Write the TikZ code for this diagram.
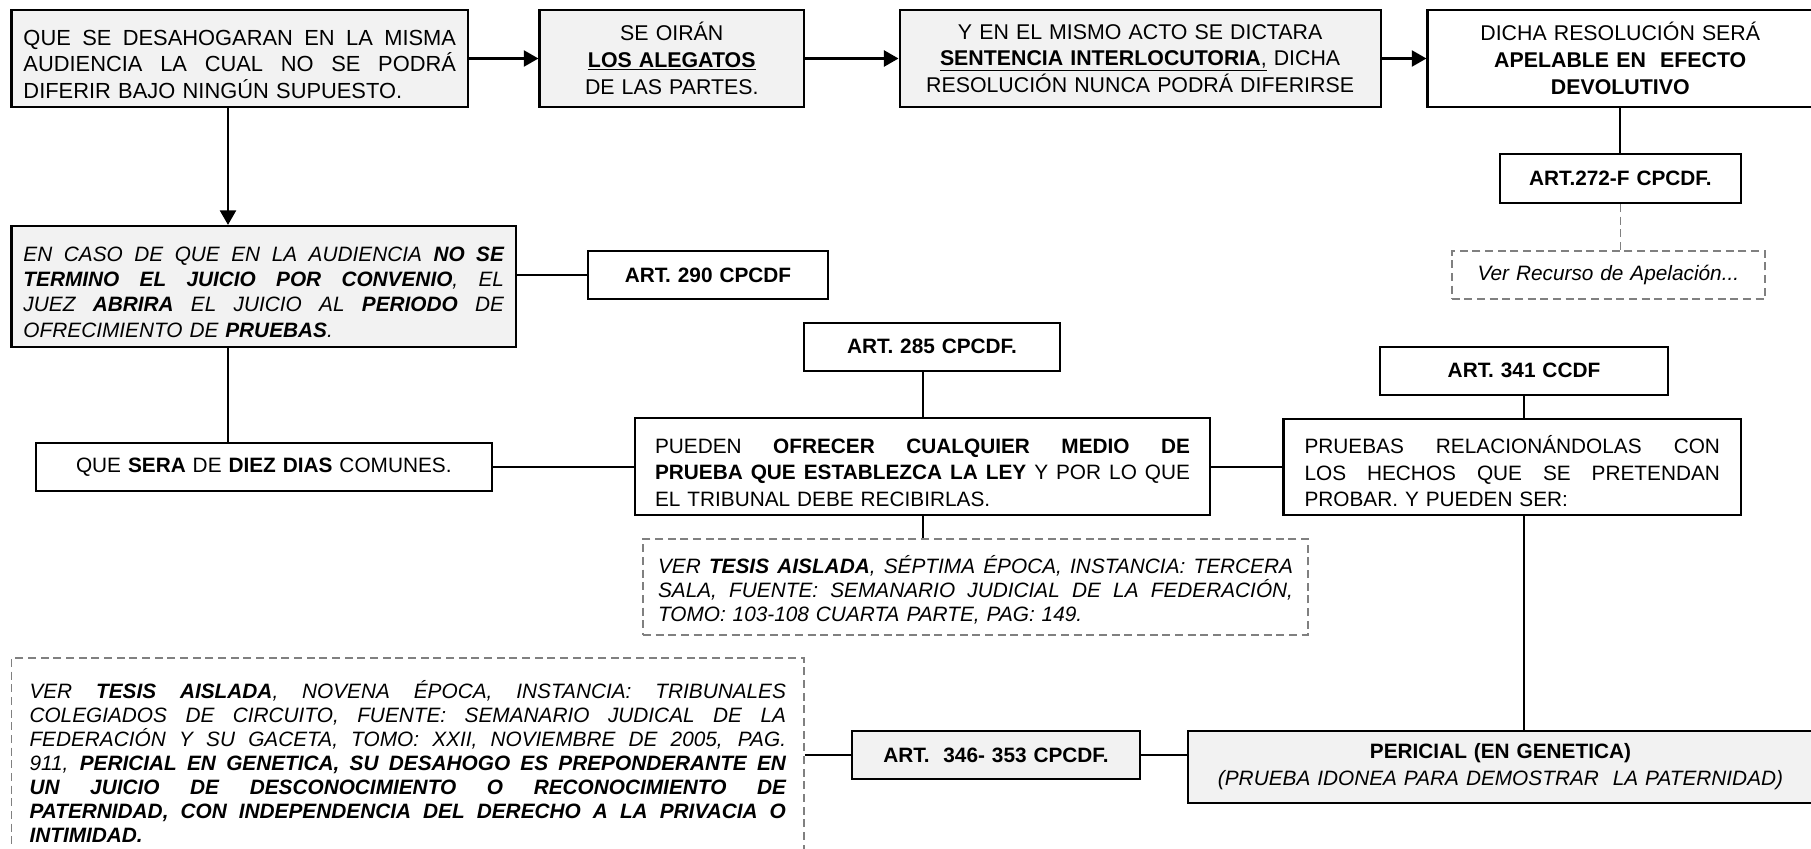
\documentclass[tikz,border=0pt]{standalone}
\usepackage{fontspec}
\setmainfont{Liberation Sans}
\usetikzlibrary{arrows.meta}

\definecolor{panelgray}{HTML}{F2F2F2}
\definecolor{noteline}{HTML}{808080}

% one justified row / one final (left aligned) row of a text block;
% \bxt holds the text width of the box being drawn
\newcommand\jrow[1]{\par\hbox to\bxt pt{\spaceskip=0.278em plus 1fil\relax #1}}
\newcommand\frow[1]{\par\hbox to\bxt pt{#1\hfil}}

% \bx{name}{x1}{y1}{x2}{y2}{side padding}{style}{text}  (pixel units)
\newcommand\bx[8]{%
  \pgfmathsetmacro\bxw{(#4-#2)*0.75}%
  \pgfmathsetmacro\bxh{(#5-#3)*0.75}%
  \pgfmathsetmacro\bxt{(#4-#2-2*#6)*0.75}%
  \pgfmathsetmacro\bxp{#6*0.75}%
  \node[#7, inner xsep=\bxp pt, inner ysep=0pt, minimum width=\bxw pt,
        minimum height=\bxh pt, text width=\bxt pt]
        (#1) at ({(#2+#4)/2},{(#3+#5)/2}) {#8};}

\begin{document}
\begin{tikzpicture}[x=0.75pt, y=-0.75pt,
  cardwhite/.style={draw=black, line width=1.6pt, fill=white,
    font=\fontsize{15.6}{20}\selectfont},
  cardgray/.style={cardwhite, fill=panelgray},
  toprow/.style={font=\fontsize{16}{20}\selectfont},
  notecard/.style={draw=noteline, line width=1.2pt, dash pattern=on 6pt off 3.5pt,
    fill=white, font=\fontsize{15.6}{18}\selectfont\itshape},
  link/.style={line width=1.5pt},
  flow/.style={line width=2pt, -{Triangle[length=11pt,width=12pt]}},
  notelink/.style={draw=noteline, line width=1.2pt, dash pattern=on 6pt off 3.5pt}]

\fill[white] (0,0) rectangle (1811,849);
\useasboundingbox (0,0) rectangle (1811,849);

% ---- first row
\bx{b1}{11.5}{10}{468}{107}{12}{cardgray, font=\fontsize{16.4}{20}\selectfont}{%
\jrow{QUE SE DESAHOGARAN EN LA MISMA}
\jrow{AUDIENCIA LA CUAL NO SE PODRÁ}
\frow{DIFERIR BAJO NINGÚN SUPUESTO.}}

\bx{b2}{539.5}{10}{804}{107}{6}{cardgray, toprow, align=center}{%
SE OIRÁN\\\underline{\textbf{LOS ALEGATOS}}\\DE LAS PARTES.}

\bx{b3}{899.6}{10}{1380.6}{107}{6}{cardgray, toprow, align=center}{%
Y EN EL MISMO ACTO SE DICTARA\\\underline{\textbf{SENTENCIA INTERLOCUTORIA},} DICHA\\RESOLUCIÓN NUNCA PODRÁ DIFERIRSE}

\bx{b4}{1427.5}{10}{1813}{107}{6}{cardwhite, toprow, align=center}{%
DICHA RESOLUCIÓN SERÁ\\\textbf{APELABLE EN\ \ EFECTO}\\\textbf{DEVOLUTIVO}}

% ---- appeal branch
\bx{a272}{1500}{154}{1740.7}{203}{5}{cardwhite, align=center}{\textbf{ART.272-F CPCDF.}}
\bx{ver}{1451.7}{251}{1765}{299}{5}{notecard, align=center,
  font=\fontsize{15.6}{20}\selectfont\itshape}{Ver Recurso de Apelación...}

% ---- evidence period
\bx{enc}{11.5}{226}{516}{347}{12}{cardgray, font=\fontsize{15.6}{19}\selectfont\itshape}{%
\jrow{EN CASO DE QUE EN LA AUDIENCIA \textbf{NO SE}}
\jrow{\textbf{TERMINO EL JUICIO POR CONVENIO}, EL}
\jrow{JUEZ \textbf{ABRIRA} EL JUICIO AL \textbf{PERIODO} DE}
\frow{OFRECIMIENTO DE \textbf{PRUEBAS}.}}

\bx{a290}{587.7}{250.7}{828.3}{299}{5}{cardwhite, align=center}{\textbf{ART. 290 CPCDF}}

\bx{a285}{804}{322.7}{1060}{370.7}{5}{cardwhite, align=center}{\textbf{ART. 285 CPCDF.}}

\bx{a341}{1380}{346.7}{1668}{395}{5}{cardwhite, align=center}{\textbf{ART. 341 CCDF}}

\bx{qs}{35.6}{442.7}{492}{491}{6}{cardwhite, align=center}{%
QUE \textbf{SERA} DE \textbf{DIEZ DIAS} COMUNES.}

\bx{pue}{635}{418}{1210}{515}{20}{cardwhite}{%
\jrow{PUEDEN \textbf{OFRECER CUALQUIER MEDIO DE}}
\jrow{\textbf{PRUEBA QUE ESTABLEZCA LA LEY} Y POR LO QUE}
\frow{EL TRIBUNAL DEBE RECIBIRLAS.}}

\bx{pru}{1283.5}{419}{1741}{515}{21}{cardwhite}{%
\jrow{PRUEBAS RELACIONÁNDOLAS CON}
\jrow{LOS HECHOS QUE SE PRETENDAN}
\frow{PROBAR. Y PUEDEN SER:}}

\bx{t1}{643}{539}{1308}{635}{15}{notecard}{%
\jrow{VER \textbf{TESIS AISLADA}, SÉPTIMA ÉPOCA, INSTANCIA: TERCERA}
\jrow{SALA, FUENTE: SEMANARIO JUDICIAL DE LA FEDERACIÓN,}
\frow{TOMO: 103-108 CUARTA PARTE, PAG: 149.}}

% ---- expert evidence
\bx{t2}{11.5}{658}{804}{858}{18}{notecard}{%
\jrow{VER \textbf{TESIS AISLADA}, NOVENA ÉPOCA, INSTANCIA: TRIBUNALES}
\jrow{COLEGIADOS DE CIRCUITO, FUENTE: SEMANARIO JUDICAL DE LA}
\jrow{FEDERACIÓN Y SU GACETA, TOMO: XXII, NOVIEMBRE DE 2005, PAG.}
\jrow{911, \textbf{PERICIAL EN GENETICA, SU DESAHOGO ES PREPONDERANTE EN}}
\jrow{\textbf{UN JUICIO DE DESCONOCIMIENTO O RECONOCIMIENTO DE}}
\jrow{\textbf{PATERNIDAD, CON INDEPENDENCIA DEL DERECHO A LA PRIVACIA O}}
\frow{\textbf{INTIMIDAD.}}}

\bx{a346}{852}{730.7}{1140}{779}{5}{cardgray, align=center}{\textbf{ART.\ \ 346- 353 CPCDF.}}

\bx{per}{1188}{730.7}{1813}{802.7}{6}{cardgray, align=center}{%
\textbf{PERICIAL (EN GENETICA)}\\\textit{(PRUEBA IDONEA PARA DEMOSTRAR\ \ LA PATERNIDAD)}}

% ---- connectors
\coordinate (v1) at (228,0);

\draw[flow] (b1.east) -- (b2.west);
\draw[flow] (b2.east) -- (b3.west);
\draw[flow] (b3.east) -- (b4.west);
\draw[flow] (b1.south -| v1) -- (enc.north -| v1);

\draw[link] (b4.south -| a272.north) -- (a272.north);
\draw[notelink] (a272.south) -- (ver.north -| a272.south);

\draw[link] (enc.east |- a290.west) -- (a290.west);
\draw[link] (enc.south -| v1) -- (qs.north -| v1);
\draw[link] (qs.east) -- (pue.west |- qs.east);
\draw[link] (a285.south -| pue.north) -- (pue.north);
\draw[link] (pue.south) -- (t1.north -| pue.south);
\draw[link] (pue.east) -- (pru.west |- pue.east);
\draw[link] (a341.south) -- (pru.north -| a341.south);
\draw[link] (pru.south -| a341.south) -- (per.north -| a341.south);
\draw[link] (t2.east |- a346.west) -- (a346.west);
\draw[link] (a346.east) -- (per.west |- a346.east);

\end{tikzpicture}
\end{document}
